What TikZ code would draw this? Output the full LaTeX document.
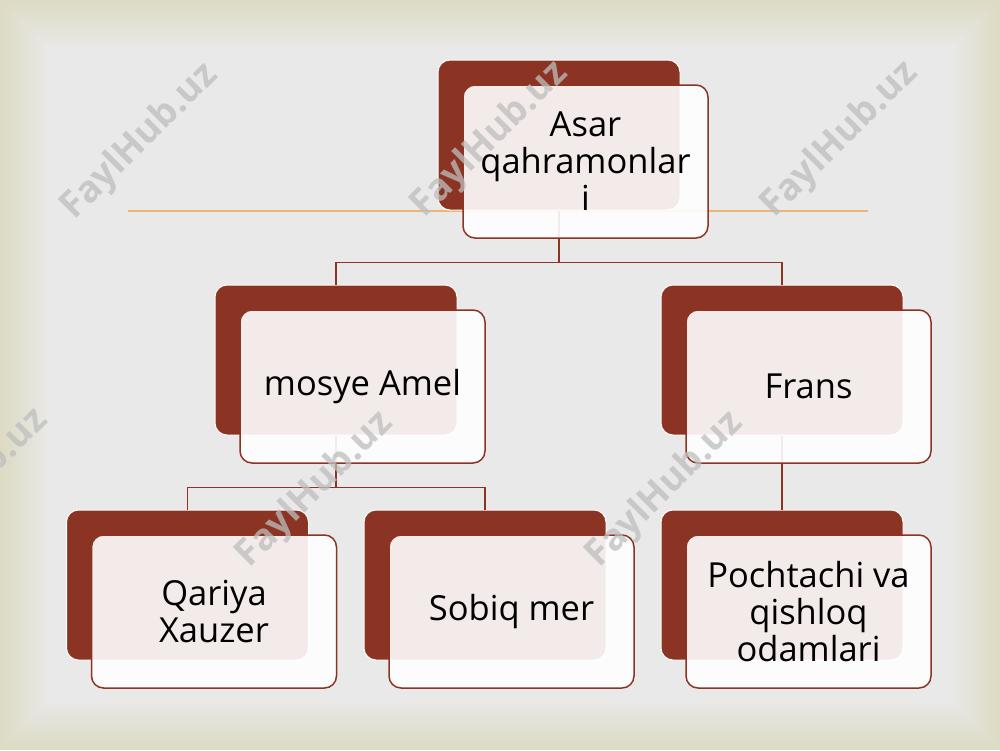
\documentclass[tikz,border=0pt]{standalone}
\usepackage{fontspec}
\setmainfont{Open Sans}
\usetikzlibrary{positioning}
\definecolor{boxred}{RGB}{139,52,36}
\definecolor{paper}{RGB}{234,234,234}
\definecolor{edge}{RGB}{221,219,196}
\definecolor{lineor}{RGB}{238,180,118}
\definecolor{wmgray}{RGB}{190,190,190}
\tikzset{
  back/.style={draw=white, line width=1pt, fill=boxred, rounded corners=12pt,
    minimum width=242pt, minimum height=150pt, inner sep=0pt},
  front/.style={draw=boxred, line width=1.5pt, fill=white, fill opacity=0.9,
    text opacity=1, rounded corners=12pt, minimum width=245pt,
    minimum height=153pt, inner sep=0pt, align=center,
    font=\fontsize{34.5}{37}\selectfont},
  link/.style={draw=boxred, line width=1.8pt},
  wm/.style={rotate=45, text=wmgray, opacity=0.75,
    font=\bfseries\fontsize{37}{37}\selectfont}
}
\begin{document}
\begin{tikzpicture}[x=1pt, y=-1pt]
    \useasboundingbox (0,0) rectangle (1000,750);
    % 背景
    \fill[edge] (0,0) rectangle (1000,750);
    \foreach \i [evaluate=\i as \p using 8*\i] in {1,...,12}
      \fill[paper!\p!edge] ({4*\i},{4*\i}) rectangle ({1000-4*\i},{750-4*\i});
    \draw[lineor, line width=1.5pt] (128,211) -- (868,211);
    % 後ろの箱
    \node[back] (asarB) at (559,135) {};
    \node[back] (amelB) at (336,360) {};
    \node[back] (fransB) at (782,360) {};
    \node[back] (qariyaB) at (187.5,585) {};
    \node[back] (sobiqB) at (485,585) {};
    \node[back] (pochB) at (782,585) {};
    % 接続線
    \draw[link] (asarB.south) -- ++(0,52) -| (amelB.north);
    \draw[link] (asarB.south) ++(0,52) -| (fransB.north);
    \draw[link] (amelB.south) -- ++(0,52) -| (qariyaB.north);
    \draw[link] (amelB.south) ++(0,52) -| (sobiqB.north);
    \draw[link] (fransB.south) -- (pochB.north);
    % 前の箱
    \node[front] (asar) at ([shift={(26.5,26.5)}]asarB.center) {Asar\\qahramonlar\\i};
    \node[front] (amel) at ([shift={(26.5,26.5)}]amelB.center) {mosye Amel};
    \node[front] (frans) at ([shift={(26.5,26.5)}]fransB.center) {Frans};
    \node[front] (qariya) at ([shift={(26.5,26.5)}]qariyaB.center) {Qariya\\Xauzer};
    \node[front] (sobiq) at ([shift={(26.5,26.5)}]sobiqB.center) {Sobiq mer};
    \node[front] (poch) at ([shift={(26.5,26.5)}]pochB.center) {Pochtachi va\\qishloq\\odamlari};
    % 透かし
    \node[wm] (wm1) at (140,142) {FaylHub.uz};
    \node[wm] (wm2) at (490,140) {FaylHub.uz};
    \node[wm] (wm3) at (840,140) {FaylHub.uz};
    \node[wm] (wm4) at (-30,487) {FaylHub.uz};
    \node[wm] (wm5) at (315,490) {FaylHub.uz};
    \node[wm] (wm6) at (665,490) {FaylHub.uz};
\end{tikzpicture}
\end{document}
